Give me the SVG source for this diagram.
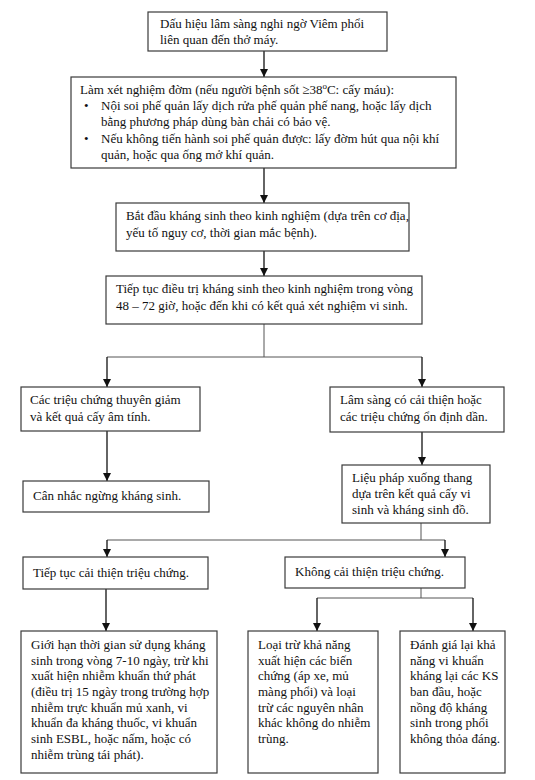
<svg xmlns="http://www.w3.org/2000/svg" width="535" height="780" viewBox="0 0 535 780">
<style>
  .box { fill: #ffffff; stroke: #3a3a3a; stroke-width: 1.2; }
  .t { font-family: "Liberation Serif", "Times New Roman", serif; font-size: 13px; fill: #111; }
  .c { fill: none; stroke: #111; stroke-width: 1.3; }
  .cn { fill: none; stroke: #555; stroke-width: 1; }
</style>
<defs>
  <marker id="ah" viewBox="0 0 8 10" refX="8" refY="5" markerWidth="8" markerHeight="10" markerUnits="userSpaceOnUse" orient="auto">
    <path d="M0,1 L8,5 L0,9 Z" fill="#111"/>
  </marker>
</defs>
<rect width="535" height="780" fill="#ffffff"/>

<g id="connectors">
  <line class="c" x1="264" y1="51" x2="264" y2="77" marker-end="url(#ah)"/>
  <line class="c" x1="264" y1="168" x2="264" y2="203" marker-end="url(#ah)"/>
  <line class="c" x1="264" y1="251" x2="264" y2="276" marker-end="url(#ah)"/>
  <polyline class="cn" points="264,324 264,357"/>
  <polyline class="cn" points="107,357 422,357"/>
  <line class="c" x1="107" y1="357" x2="107" y2="387" marker-end="url(#ah)"/>
  <line class="c" x1="422" y1="357" x2="422" y2="387" marker-end="url(#ah)"/>
  <line class="c" x1="107" y1="431" x2="107" y2="481" marker-end="url(#ah)"/>
  <line class="c" x1="422" y1="432" x2="422" y2="465" marker-end="url(#ah)"/>
  <polyline class="cn" points="421,523 421,540"/>
  <polyline class="cn" points="107,540 445,540"/>
  <line class="c" x1="107" y1="540" x2="107" y2="557" marker-end="url(#ah)"/>
  <line class="c" x1="445" y1="540" x2="445" y2="557" marker-end="url(#ah)"/>
  <line class="c" x1="106" y1="589" x2="106" y2="631" marker-end="url(#ah)"/>
  <polyline class="cn" points="421,588 421,598"/>
  <polyline class="cn" points="317,598 473,598"/>
  <line class="c" x1="317" y1="598" x2="317" y2="631" marker-end="url(#ah)"/>
  <line class="c" x1="473" y1="598" x2="473" y2="631" marker-end="url(#ah)"/>
</g>

<g id="n1">
  <rect class="box" x="148" y="12" width="239" height="39"/>
  <text class="t" x="160" y="28">Dấu hiệu lâm sàng nghi ngờ Viêm phổi</text>
  <text class="t" x="160" y="44">liên quan đến thở máy.</text>
</g>

<g id="n2">
  <rect class="box" x="71" y="77" width="385" height="91"/>
  <text class="t" x="80" y="94">Làm xét nghiệm đờm (nếu người bệnh sốt ≥38<tspan font-size="9" dy="-5">o</tspan><tspan dy="5">C: cấy máu):</tspan></text>
  <text class="t" x="84" y="110">•</text>
  <text class="t" x="101" y="110">Nội soi phế quản lấy dịch rửa phế quản phế nang, hoặc lấy dịch</text>
  <text class="t" x="101" y="126">bằng phương pháp dùng bàn chải có bảo vệ.</text>
  <text class="t" x="84" y="143">•</text>
  <text class="t" x="101" y="143">Nếu không tiến hành soi phế quản được: lấy đờm hút qua nội khí</text>
  <text class="t" x="101" y="159">quản, hoặc qua ống mở khí quản.</text>
</g>

<g id="n3">
  <rect class="box" x="116" y="203" width="293" height="48"/>
  <text class="t" x="126" y="220">Bắt đầu kháng sinh theo kinh nghiệm (dựa trên cơ địa,</text>
  <text class="t" x="126" y="237">yếu tố nguy cơ, thời gian mắc bệnh).</text>
</g>

<g id="n4">
  <rect class="box" x="106" y="276" width="316" height="48"/>
  <text class="t" x="116" y="293">Tiếp tục điều trị kháng sinh theo kinh nghiệm trong vòng</text>
  <text class="t" x="116" y="310">48 – 72 giờ, hoặc đến khi có kết quả xét nghiệm vi sinh.</text>
</g>

<g id="n5">
  <rect class="box" x="21" y="387" width="179" height="44"/>
  <text class="t" x="30" y="404">Các triệu chứng thuyên giảm</text>
  <text class="t" x="30" y="421">và kết quả cấy âm tính.</text>
</g>

<g id="n6">
  <rect class="box" x="330" y="387" width="174" height="45"/>
  <text class="t" x="340" y="404">Lâm sàng có cải thiện hoặc</text>
  <text class="t" x="340" y="421">các triệu chứng ổn định dần.</text>
</g>

<g id="n7">
  <rect class="box" x="23" y="481" width="186" height="31"/>
  <text class="t" x="33" y="500">Cân nhắc ngừng kháng sinh.</text>
</g>

<g id="n8">
  <rect class="box" x="342" y="465" width="148" height="58"/>
  <text class="t" x="352" y="482">Liệu pháp xuống thang</text>
  <text class="t" x="352" y="498">dựa trên kết quả cấy vi</text>
  <text class="t" x="352" y="514">sinh và kháng sinh đồ.</text>
</g>

<g id="n9">
  <rect class="box" x="23" y="557" width="185" height="32"/>
  <text class="t" x="33" y="577">Tiếp tục cải thiện triệu chứng.</text>
</g>

<g id="n10">
  <rect class="box" x="285" y="557" width="180" height="31"/>
  <text class="t" x="295" y="576">Không cải thiện triệu chứng.</text>
</g>

<g id="n11">
  <rect class="box" x="21" y="631" width="196" height="142"/>
  <text class="t" x="31" y="649">Giới hạn thời gian sử dụng kháng</text>
  <text class="t" x="31" y="665">sinh trong vòng 7-10 ngày, trừ khi</text>
  <text class="t" x="31" y="680">xuất hiện nhiễm khuẩn thứ phát</text>
  <text class="t" x="31" y="696">(điều trị 15 ngày trong trường hợp</text>
  <text class="t" x="31" y="712">nhiễm trực khuẩn mủ xanh, vi</text>
  <text class="t" x="31" y="727">khuẩn đa kháng thuốc, vi khuẩn</text>
  <text class="t" x="31" y="743">sinh ESBL, hoặc nấm, hoặc có</text>
  <text class="t" x="31" y="759">nhiễm trùng tái phát).</text>
</g>

<g id="n12">
  <rect class="box" x="248" y="631" width="130" height="142"/>
  <text class="t" x="258" y="649">Loại trừ khả năng</text>
  <text class="t" x="258" y="665">xuất hiện các biến</text>
  <text class="t" x="258" y="680">chứng (áp xe, mủ</text>
  <text class="t" x="258" y="696">màng phổi) và loại</text>
  <text class="t" x="258" y="712">trừ các nguyên nhân</text>
  <text class="t" x="258" y="727">khác không do nhiễm</text>
  <text class="t" x="258" y="743">trùng.</text>
</g>

<g id="n13">
  <rect class="box" x="400" y="631" width="105" height="142"/>
  <text class="t" x="410" y="649">Đánh giá lại khả</text>
  <text class="t" x="410" y="665">năng vi khuẩn</text>
  <text class="t" x="410" y="680">kháng lại các KS</text>
  <text class="t" x="410" y="696">ban đầu, hoặc</text>
  <text class="t" x="410" y="712">nồng độ kháng</text>
  <text class="t" x="410" y="727">sinh trong phổi</text>
  <text class="t" x="410" y="743">không thỏa đáng.</text>
</g>
</svg>
